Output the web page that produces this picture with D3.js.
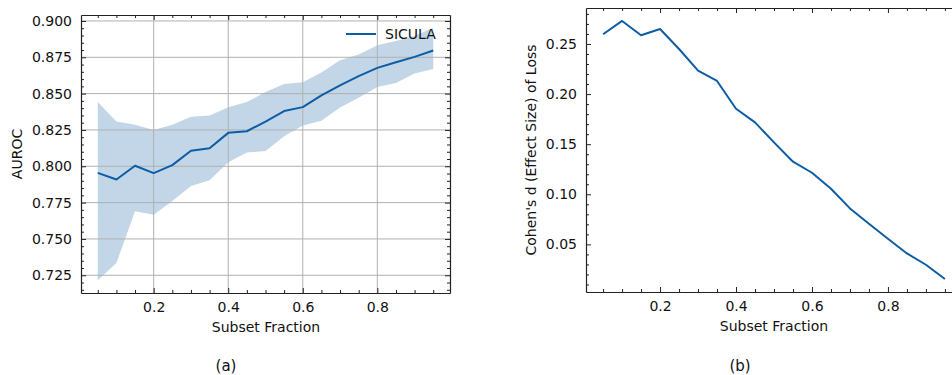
<!DOCTYPE html>
<html>
<head>
<meta charset="utf-8">
<script src="https://cdn.jsdelivr.net/npm/d3@7/dist/d3.min.js"></script>
<style>
  html, body { margin: 0; padding: 0; background: #fff; overflow: hidden; }
  svg { display: block; }
  text { font-family: "DejaVu Sans", sans-serif; fill: #111; }
</style>
</head>
<body>
<svg id="chart" width="952" height="375"></svg>
<script>
// ---- Data ----
const fractions = [0.05, 0.10, 0.15, 0.20, 0.25, 0.30, 0.35, 0.40, 0.45, 0.50,
                   0.55, 0.60, 0.65, 0.70, 0.75, 0.80, 0.85, 0.90, 0.95];
const aurocMean = [0.7955, 0.7909, 0.8004, 0.7953, 0.8008, 0.8107, 0.8124, 0.8230, 0.8241, 0.8308,
                   0.8380, 0.8407, 0.8488, 0.8557, 0.8620, 0.8677, 0.8716, 0.8753, 0.8797];
const aurocUpper = [0.8442, 0.8308, 0.8285, 0.8250, 0.8285, 0.8340, 0.8350, 0.8407, 0.8442, 0.8511,
                    0.8566, 0.8578, 0.8645, 0.8730, 0.8769, 0.8832, 0.8862, 0.8896, 0.8954];
const aurocLower = [0.7215, 0.7335, 0.7690, 0.7667, 0.7761, 0.7865, 0.7904, 0.8027, 0.8094, 0.8105,
                    0.8207, 0.8281, 0.8313, 0.8405, 0.8472, 0.8546, 0.8573, 0.8638, 0.8670];
const cohensD = [0.2597, 0.2730, 0.2587, 0.2650, 0.2450, 0.2234, 0.2131, 0.1854, 0.1718, 0.1518,
                 0.1325, 0.1215, 0.1056, 0.0859, 0.0706, 0.0557, 0.0410, 0.0297, 0.0154];
const xTicks = [0.2, 0.4, 0.6, 0.8];
const aurocTicks = [0.725, 0.750, 0.775, 0.800, 0.825, 0.850, 0.875, 0.900];
const cohenTicks = [0.05, 0.10, 0.15, 0.20, 0.25];
const seriesName = "SICULA";
const xLabel = "Subset Fraction";
const yLabelA = "AUROC";
const yLabelB = "Cohen's d (Effect Size) of Loss";
const panelLabels = ["(a)", "(b)"];

const blue = "#0C5DA5";
const FS = 14;
const svg = d3.select("#chart");

function minorTicks(domain, step) {
  const out = [];
  const start = Math.ceil(domain[0] / step - 1e-9);
  const end = Math.floor(domain[1] / step + 1e-9);
  for (let i = start; i <= end; i++) out.push(+(i * step).toFixed(6));
  return out;
}

function drawPanel(opt) {
  const { left, right, top, bottom, xDomain, yDomain, yTicks, yFmt, yMinor, grid } = opt;
  const g = svg.append("g");
  const x = d3.scaleLinear().domain(xDomain).range([left, right]);
  const y = d3.scaleLinear().domain(yDomain).range([bottom, top]);

  const clipId = "clip" + left;
  svg.append("clipPath").attr("id", clipId).append("rect")
    .attr("x", left).attr("y", top).attr("width", right - left).attr("height", bottom - top);

  const plot = g.append("g").attr("clip-path", `url(#${clipId})`);

  if (opt.band) {
    const area = d3.area()
      .x((d, i) => x(fractions[i]))
      .y0((d, i) => y(opt.band.lower[i]))
      .y1((d, i) => y(opt.band.upper[i]));
    plot.append("path").datum(fractions).attr("d", area)
      .attr("fill", blue).attr("fill-opacity", 0.25).attr("stroke", "none");
  }

  if (grid) {
    plot.selectAll(".gx").data(xTicks).enter().append("line")
      .attr("x1", d => x(d)).attr("x2", d => x(d)).attr("y1", top).attr("y2", bottom)
      .attr("stroke", "#b0b0b0").attr("stroke-width", 1);
    plot.selectAll(".gy").data(yTicks).enter().append("line")
      .attr("y1", d => y(d)).attr("y2", d => y(d)).attr("x1", left).attr("x2", right)
      .attr("stroke", "#b0b0b0").attr("stroke-width", 1);
  }

  const line = d3.line().x((d, i) => x(fractions[i])).y(d => y(d));
  plot.append("path").datum(opt.values).attr("d", line)
    .attr("fill", "none").attr("stroke", blue).attr("stroke-width", 2)
    .attr("stroke-linejoin", "round");

  const tickColor = "#222";
  const xMinorT = minorTicks(xDomain, 0.05).filter(v => !xTicks.some(t => Math.abs(t - v) < 1e-6));
  const yMinorT = minorTicks(yDomain, yMinor).filter(v => !yTicks.some(t => Math.abs(t - v) < 1e-6));

  const bottomAxis = d3.axisBottom(x).tickValues(xTicks).tickSizeInner(-5).tickSizeOuter(0).tickPadding(9).tickFormat(d3.format(".1f"));
  g.append("g").attr("transform", `translate(0,${bottom})`).call(bottomAxis);
  const topAxis = d3.axisTop(x).tickValues(xTicks).tickSizeInner(-5).tickSizeOuter(0).tickFormat("");
  g.append("g").attr("transform", `translate(0,${top})`).call(topAxis);
  const leftAxis = d3.axisLeft(y).tickValues(yTicks).tickSizeInner(-5).tickSizeOuter(0).tickPadding(9).tickFormat(yFmt);
  g.append("g").attr("transform", `translate(${left},0)`).call(leftAxis);
  const rightAxis = d3.axisRight(y).tickValues(yTicks).tickSizeInner(-5).tickSizeOuter(0).tickFormat("");
  g.append("g").attr("transform", `translate(${right},0)`).call(rightAxis);

  g.append("g").attr("transform", `translate(0,${bottom})`).call(d3.axisBottom(x).tickValues(xMinorT).tickSizeInner(-3).tickSizeOuter(0).tickFormat("")).select(".domain").remove();
  g.append("g").attr("transform", `translate(0,${top})`).call(d3.axisTop(x).tickValues(xMinorT).tickSizeInner(-3).tickSizeOuter(0).tickFormat("")).select(".domain").remove();
  g.append("g").attr("transform", `translate(${left},0)`).call(d3.axisLeft(y).tickValues(yMinorT).tickSizeInner(-3).tickSizeOuter(0).tickFormat("")).select(".domain").remove();
  g.append("g").attr("transform", `translate(${right},0)`).call(d3.axisRight(y).tickValues(yMinorT).tickSizeInner(-3).tickSizeOuter(0).tickFormat("")).select(".domain").remove();

  g.selectAll(".domain").attr("stroke", tickColor).attr("stroke-width", 1.2);
  g.selectAll(".tick line").attr("stroke", tickColor).attr("stroke-width", 1);
  g.selectAll(".tick text").attr("font-family", "DejaVu Sans, sans-serif").attr("font-size", FS).attr("fill", "#111");

  g.append("text").attr("x", opt.xLabelX).attr("y", bottom + 39)
    .attr("text-anchor", "middle").attr("font-size", FS).text(xLabel);
  g.append("text").attr("transform", `translate(${opt.yLabelX},${(top + bottom) / 2}) rotate(-90)`)
    .attr("text-anchor", "middle").attr("dominant-baseline", "central").attr("font-size", FS).text(opt.yLabel);

  return { x, y, g };
}

// Panel (a)
const pa = drawPanel({
  left: 81, right: 450, top: 15, bottom: 293,
  xDomain: [0.005, 0.995], yDomain: [0.7128, 0.9041],
  yTicks: aurocTicks, yFmt: d3.format(".3f"), yMinor: 0.005, grid: true,
  band: { lower: aurocLower, upper: aurocUpper }, values: aurocMean,
  yLabel: yLabelA, yLabelX: 17, xLabelX: 266
});
pa.g.append("line").attr("x1", 346).attr("x2", 376).attr("y1", 34).attr("y2", 34)
  .attr("stroke", blue).attr("stroke-width", 2);
pa.g.append("text").attr("x", 385).attr("y", 34).attr("dominant-baseline", "central")
  .attr("font-size", FS).text(seriesName);

// Panel (b)
drawPanel({
  left: 586, right: 962, top: 8, bottom: 292,
  xDomain: [0.005, 0.995], yDomain: [0.0025, 0.2859],
  yTicks: cohenTicks, yFmt: d3.format(".2f"), yMinor: 0.01, grid: false,
  values: cohensD,
  yLabel: yLabelB, yLabelX: 531, xLabelX: 774
});

svg.append("text").attr("x", 226).attr("y", 366).attr("text-anchor", "middle")
  .attr("dominant-baseline", "central").attr("font-family", "DejaVu Serif, serif").attr("font-size", 15).text(panelLabels[0]);
svg.append("text").attr("x", 740).attr("y", 366).attr("text-anchor", "middle")
  .attr("dominant-baseline", "central").attr("font-family", "DejaVu Serif, serif").attr("font-size", 15).text(panelLabels[1]);
</script>
</body>
</html>
